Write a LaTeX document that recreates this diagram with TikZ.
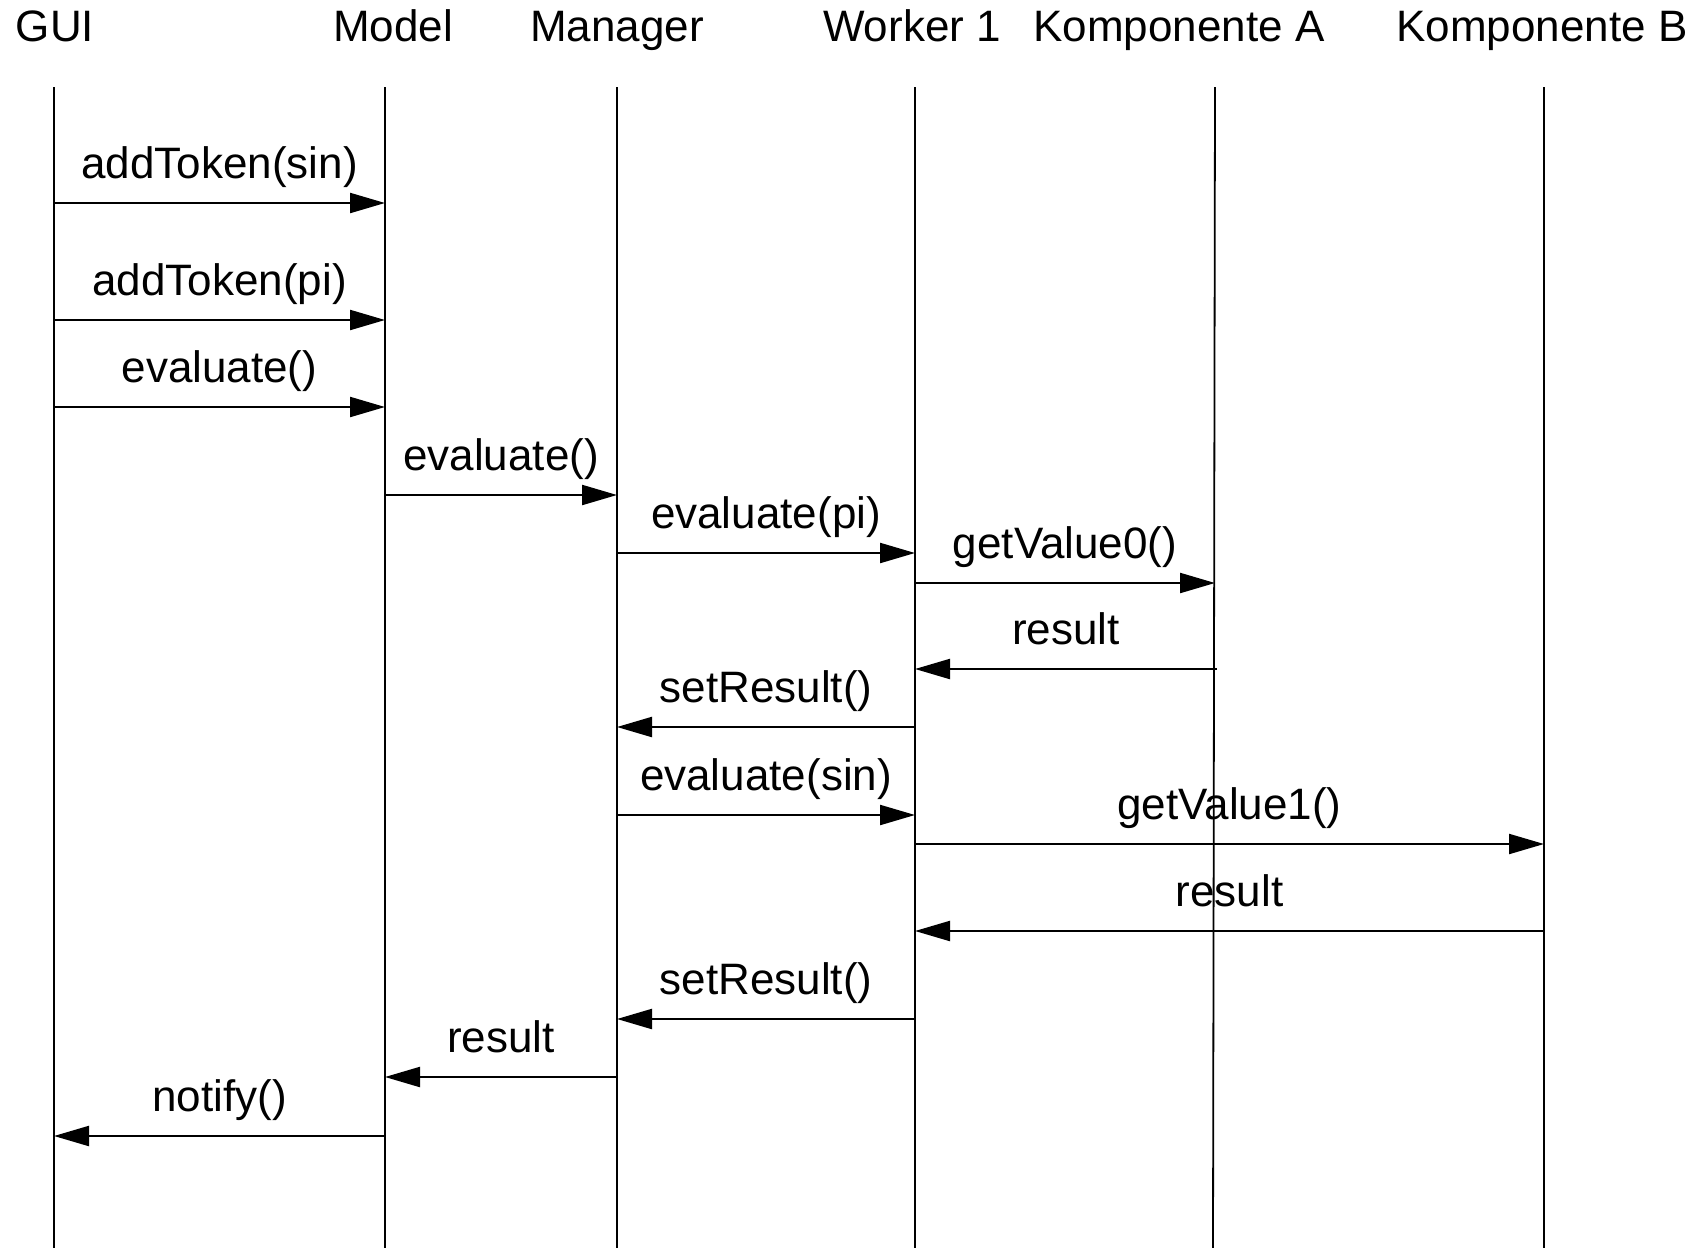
\documentclass[tikz,border=0pt]{standalone}
\usepackage{fontspec}
\setmainfont{Liberation Sans}
\usetikzlibrary{arrows.meta}
\begin{document}
\begin{tikzpicture}[x=1pt,y=-1pt,
  head/.style={anchor=base,inner sep=0pt,font=\fontsize{44}{53}\selectfont},
  lifeline/.style={line width=1.8pt},
  msg/.style={line width=2.2pt,-{Triangle[length=35pt,width=20pt]}},
  lbl/.style={anchor=base,inner sep=0pt,yshift=25pt,font=\fontsize{44}{53}\selectfont}]
\useasboundingbox[fill=white] (0,0) rectangle (1701,1248);
% headers
\node[head] (hgui) at (55,41) {GUI};
\node[head] (hmodel) at (393,41) {Model};
\node[head] (hman) at (617,41) {Manager};
\node[head] (hwork) at (912,41) {Worker 1};
\node[head] (hka) at (1179,41) {Komponente A};
\node[head] (hkb) at (1542,41) {Komponente B};
% lifelines
\coordinate (guiT) at (54,87);   \coordinate (guiB) at (54,1248);
\coordinate (modT) at (385,87);  \coordinate (modB) at (385,1248);
\coordinate (manT) at (617,87);  \coordinate (manB) at (617,1248);
\coordinate (wrkT) at (915,87);  \coordinate (wrkB) at (915,1248);
\coordinate (kaT) at (1215,87);  \coordinate (kaB) at (1213,1248);
\coordinate (kbT) at (1544,87);  \coordinate (kbB) at (1544,1248);
\foreach \l in {gui,mod,man,wrk,ka,kb}{\draw[lifeline] (\l T) -- (\l B);}
% message endpoints
\coordinate (a1) at (54,203);   \coordinate (b1) at (385,203);
\coordinate (a2) at (54,320);   \coordinate (b2) at (385,320);
\coordinate (a3) at (54,407);   \coordinate (b3) at (385,407);
\coordinate (a4) at (385,495);  \coordinate (b4) at (617,495);
\coordinate (a5) at (617,553);  \coordinate (b5) at (915,553);
\coordinate (a6) at (915,583);  \coordinate (b6) at (1215,583);
\coordinate (a7) at (1217,669); \coordinate (b7) at (915,669);
\coordinate (a8) at (915,727);  \coordinate (b8) at (617,727);
\coordinate (a9) at (617,815);  \coordinate (b9) at (915,815);
\coordinate (a10) at (915,844); \coordinate (b10) at (1544,844);
\coordinate (a11) at (1544,931);\coordinate (b11) at (915,931);
\coordinate (a12) at (915,1019);\coordinate (b12) at (617,1019);
\coordinate (a13) at (617,1077);\coordinate (b13) at (385,1077);
\coordinate (a14) at (385,1136);\coordinate (b14) at (54,1136);
% messages
\draw[msg] (a1) -- node[lbl] {addToken(sin)} (b1);
\draw[msg] (a2) -- node[lbl] {addToken(pi)} (b2);
\draw[msg] (a3) -- node[lbl] {evaluate()} (b3);
\draw[msg] (a4) -- node[lbl] {evaluate()} (b4);
\draw[msg] (a5) -- node[lbl] {evaluate(pi)} (b5);
\draw[msg] (a6) -- node[lbl] {getValue0()} (b6);
\draw[msg] (a7) -- node[lbl] {result} (b7);
\draw[msg] (a8) -- node[lbl] {setResult()} (b8);
\draw[msg] (a9) -- node[lbl] {evaluate(sin)} (b9);
\draw[msg] (a10) -- node[lbl] {getValue1()} (b10);
\draw[msg] (a11) -- node[lbl] {result} (b11);
\draw[msg] (a12) -- node[lbl] {setResult()} (b12);
\draw[msg] (a13) -- node[lbl] {result} (b13);
\draw[msg] (a14) -- node[lbl] {notify()} (b14);
\end{tikzpicture}
\end{document}
